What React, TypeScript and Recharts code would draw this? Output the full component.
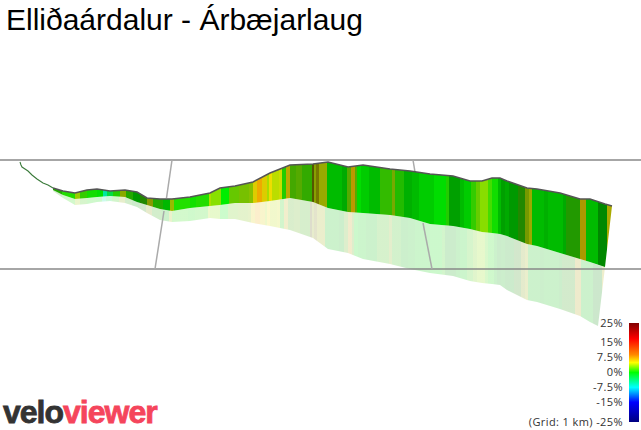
import { ComposedChart, Area, Line, XAxis, YAxis, ReferenceLine } from "recharts";

const TITLE = "Elliðaárdalur - Árbæjarlaug";

// the thin start of the route, before the wall gets any width
const startDist = [0, 1, 2, 5, 8, 12, 17, 23, 28, 33];
const startHeight = [268, 265, 263, 261, 259, 255, 251, 247, 245, 242];

// the coloured wall
const wallDist = [33, 43, 55, 67, 77, 90, 105, 117, 127, 140, 152, 170, 190, 200, 215, 233, 250, 270, 293, 308, 328, 343, 370, 390, 410, 433, 450, 462, 472, 480, 487, 507, 517, 540, 560, 570, 585, 592];
const wallTop = [242, 239, 237, 240, 241, 239, 240, 238, 232, 231, 231, 233, 237, 242, 244, 248, 257, 265, 266, 268, 263, 265, 261, 259, 256, 254, 249, 249, 252, 252, 249, 242, 241, 237, 231, 231, 226, 224];
const wallFloor = [240, 235, 231, 232, 233, 234, 233, 228, 225, 221, 219, 222, 224, 225, 227, 227, 229, 232, 228, 222, 218, 217, 215, 212, 206, 204, 201, 198, 197, 196, 194, 186, 184, 177, 171, 168, 163, 224];

// the pale reflection under it
const mirrorDist = [33, 43, 55, 67, 77, 90, 105, 117, 127, 140, 152, 170, 190, 200, 215, 233, 250, 270, 293, 308, 328, 343, 370, 390, 410, 433, 450, 462, 472, 480, 487, 507, 517, 540, 560, 570, 578, 585];
const mirrorTop = [240, 235, 231, 232, 233, 234, 233, 228, 225, 221, 219, 222, 224, 225, 227, 227, 229, 232, 228, 222, 218, 217, 215, 212, 206, 204, 201, 198, 197, 196, 194, 186, 184, 177, 171, 168, 165, 163];
const mirrorBottom = [239, 232, 225, 226, 228, 229, 227, 223, 217, 210, 208, 209, 212, 211, 211, 207, 204, 200, 192, 181, 177, 171, 166, 161, 157, 154, 149, 147, 146, 145, 140, 130, 128, 121, 114, 108, 104, 163];

// gradient bands, one colour between each pair of edges
const bandEdges = [33, 42, 55, 60, 67, 77, 83, 87, 93, 100, 106, 113, 120, 127, 133, 143, 150, 154, 170, 177, 190, 192, 202, 210, 220, 230, 234, 238, 243, 248, 250, 253, 260, 263, 267, 271, 277, 283, 293, 295, 297, 300, 308, 323, 328, 332, 336, 338, 342, 350, 361, 373, 376, 385, 393, 400, 415, 427, 430, 441, 445, 452, 458, 462, 470, 474, 480, 483, 487, 491, 500, 507, 511, 514, 526, 530, 545, 548, 562, 568, 580, 589, 592];
const bandColors = ["#22aa00", "#22dd00", "#99cc00", "#33cc00", "#11dd00", "#00e000", "#00e8a0", "#00dd44", "#22cc00", "#88aa00", "#22a800", "#009900", "#228800", "#889900", "#22aa00", "#00b800", "#99bb00", "#22e000", "#11e000", "#22dd00", "#aadd00", "#88e000", "#00ee00", "#66c800", "#77c000", "#88c000", "#ddcc00", "#eeaa00", "#ddcc00", "#aadd00", "#eedd00", "#bbdd00", "#ccdd00", "#22cc00", "#bbaa00", "#44a800", "#55aa00", "#33aa00", "#555500", "#88a000", "#777700", "#99aa00", "#00bb00", "#00aa00", "#55aa00", "#bb9900", "#55aa00", "#00dd00", "#00cc00", "#00bb00", "#33bb00", "#77aa00", "#22bb00", "#00b000", "#00bb00", "#00cc00", "#00dd00", "#22cc00", "#00a000", "#00bb00", "#00cc00", "#33cc00", "#66cc00", "#88dd00", "#44dd00", "#11dd00", "#00bb00", "#00a000", "#00aa00", "#009900", "#228800", "#779900", "#99aa00", "#00bb00", "#00b000", "#00bb00", "#00aa00", "#229900", "#aa9900", "#00bb00", "#008800", "#aaaa00"];

// grid: two level lines and the 1 km cross lines (broken where the wall hides them)
const gridLevels = [270, 161];
const crossSegments = [
  [152, 270, 146.5, 232],
  [144, 219, 135, 161],
  [393, 270, 395, 258],
  [403, 207, 412, 161],
];

// colour scale
const scaleDist = [609, 619];
const scaleLow = [8, 8];
const scaleHigh = [107, 107];
const scaleOffsets = [0, 0.16, 0.32, 0.4, 0.5, 0.65, 0.8, 1];
const scaleColors = ["#800000", "#ff0000", "#ff8800", "#ffff00", "#00ff00", "#00ffff", "#0000ff", "#000080"];
const scaleLabels = ["25%", "15%", "7.5%", "0%", "-7.5%", "-15%", "(Grid: 1 km) -25%"];
const scaleLabelTop = [316, 335, 350, 365, 380, 395, 415];

const startData = startDist.map((d, i) => ({ d, h: startHeight[i] }));
const wallData = wallDist.map((d, i) => ({ d, range: [wallFloor[i], wallTop[i]], top: wallTop[i] }));
const mirrorData = mirrorDist.map((d, i) => ({ d, range: [mirrorBottom[i], mirrorTop[i]] }));
const scaleData = scaleDist.map((d, i) => ({ d, range: [scaleLow[i], scaleHigh[i]] }));

function bandStops(from: number, to: number) {
  const stops: React.ReactElement[] = [];
  bandColors.forEach((c, i) => {
    const a = Math.min((bandEdges[i] - from) / (to - from), 1);
    const b = Math.min((bandEdges[i + 1] - from) / (to - from), 1);
    stops.push(<stop key={i + "a"} offset={a} stopColor={c} />);
    stops.push(<stop key={i + "b"} offset={b} stopColor={c} />);
  });
  return stops;
}

export default function App() {
  return (
    <div style={{ position: "absolute", left: 0, top: 0, width: 641, height: 430, background: "#fff", overflow: "hidden" }}>
      <ComposedChart width={641} height={430} margin={{ top: 0, right: 0, bottom: 0, left: 0 }}>
        <defs>
          <linearGradient id="wall" x1="0" y1="0" x2="1" y2="0">{bandStops(33, 594)}</linearGradient>
          <linearGradient id="mirror" x1="0" y1="0" x2="1" y2="0">{bandStops(33, 592)}</linearGradient>
          <linearGradient id="scale" x1="0" y1="0" x2="0" y2="1">
            {scaleColors.map((c, i) => <stop key={c} offset={scaleOffsets[i]} stopColor={c} />)}
          </linearGradient>
        </defs>
        <XAxis type="number" dataKey="d" domain={[-20, 621]} hide allowDataOverflow />
        <YAxis type="number" domain={[0, 430]} hide allowDataOverflow />
        {gridLevels.map(h => (
          <ReferenceLine key={h} y={h} stroke="#888" strokeWidth={1.5} />
        ))}
        {crossSegments.map((s, i) => (
          <ReferenceLine
            key={i}
            segment={[{ x: s[0], y: s[1] }, { x: s[2], y: s[3] }]}
            stroke="#aaa"
            strokeWidth={1.5}
          />
        ))}
        <Area data={mirrorData} dataKey="range" type="linear" stroke="none" fill="url(#mirror)" fillOpacity={0.2} dot={false} activeDot={false} isAnimationActive={false} />
        <Area data={wallData} dataKey="range" type="linear" stroke="none" fill="url(#wall)" fillOpacity={1} dot={false} activeDot={false} isAnimationActive={false} />
        <Area data={scaleData} dataKey="range" type="linear" stroke="none" fill="url(#scale)" fillOpacity={1} dot={false} activeDot={false} isAnimationActive={false} />
        <Line data={wallData} dataKey="top" type="linear" stroke="#555" strokeWidth={1.5} dot={false} activeDot={false} isAnimationActive={false} />
        <Line data={startData} dataKey="h" type="linear" stroke="#3a7a3a" strokeWidth={1.1} dot={false} activeDot={false} isAnimationActive={false} />
      </ComposedChart>
      <div style={{ position: "absolute", left: 6, top: 3, fontFamily: "'Liberation Sans', Arial, sans-serif", fontSize: 30, color: "#000", whiteSpace: "nowrap" }}>
        {TITLE}
      </div>
      {scaleLabels.map((t, i) => (
        <div key={t} style={{ position: "absolute", right: 18, top: scaleLabelTop[i], fontFamily: "'Open Sans', sans-serif", fontSize: 11, letterSpacing: 0.4, lineHeight: "14px", color: "#333", whiteSpace: "nowrap" }}>
          {t}
        </div>
      ))}
      <div style={{ position: "absolute", left: 3, top: 392, fontFamily: "'Liberation Sans', Arial, sans-serif", fontWeight: 700, fontSize: 32, letterSpacing: -1, lineHeight: "40px", WebkitTextStroke: "0.8px", whiteSpace: "nowrap" }}>
        <span style={{ color: "#333" }}>velo</span>
        <span style={{ color: "#f5455c" }}>viewer</span>
      </div>
    </div>
  );
}
